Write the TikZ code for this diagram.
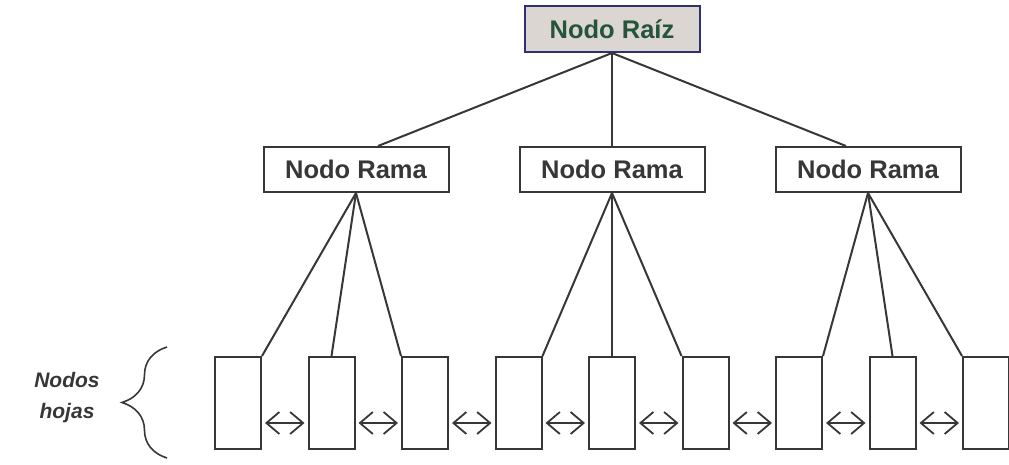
\documentclass[tikz,border=0pt]{standalone}
\usepackage{fontspec}
\setmainfont{Liberation Sans}
\usetikzlibrary{arrows.meta, positioning, decorations.pathreplacing}

\definecolor{rootfill}{RGB}{220,214,211}
\definecolor{rootdraw}{RGB}{48,48,110}
\definecolor{roottext}{RGB}{38,84,58}
\definecolor{inkgray}{RGB}{55,55,55}

\begin{document}
\begin{tikzpicture}[
    x=1pt, y=-1pt,
    font=\fontsize{25.5}{30}\selectfont\bfseries,
    root/.style={rectangle, draw=rootdraw, fill=rootfill, line width=2pt, text=roottext, inner sep=0pt, minimum width=175pt, minimum height=46pt},
    branch/.style={rectangle, draw=inkgray, line width=2pt, text=inkgray, inner sep=0pt, minimum width=185pt, minimum height=45pt},
    leaf/.style={rectangle, draw=inkgray, line width=2pt, inner sep=0pt, minimum width=46pt, minimum height=92pt},
    link/.style={draw=inkgray, line width=2pt},
    sibling/.style={{Straight Barb[length=13pt,width=22pt]}-{Straight Barb[length=13pt,width=22pt]}, draw=inkgray, line width=1.8pt},
    brace/.style={decorate, decoration={brace, amplitude=45pt, aspect=0.5}, draw=inkgray, line width=1.6pt}
]
\useasboundingbox (0,0) rectangle (1009,464);

% Root
\node[root] (root) at (612,29) {Nodo Raíz};

% Branches
\node[branch, below=93pt of root] (b2) {Nodo Rama};
\node[branch, left=69pt of b2] (b1) {Nodo Rama};
\node[branch, right=69pt of b2] (b3) {Nodo Rama};

% Leaves
\node[leaf, below=163pt of b2] (l5) {};
\node[leaf, left=45.5pt of l5] (l4) {};
\node[leaf, left=45.5pt of l4] (l3) {};
\node[leaf, left=45.5pt of l3] (l2) {};
\node[leaf, left=45.5pt of l2] (l1) {};
\node[leaf, right=45.5pt of l5] (l6) {};
\node[leaf, right=45.5pt of l6] (l7) {};
\node[leaf, right=45.5pt of l7] (l8) {};
\node[leaf, right=45.5pt of l8] (l9) {};

% Leaf label and brace
\node[font=\fontsize{21}{31}\selectfont\bfseries\itshape, text=inkgray, align=center] (hojas) at (67,398) {Nodos\\hojas};
\draw[brace] (167,458) -- (167,347);

% Root to branches
\draw[link] (root.south) -- ([xshift=22pt]b1.north);
\draw[link] (root.south) -- (b2.north);
\draw[link] (root.south) -- ([xshift=-22pt]b3.north);

% Branches to leaves
\draw[link] (b1.south) -- (l1.north east);
\draw[link] (b1.south) -- (l2.north);
\draw[link] (b1.south) -- (l3.north west);
\draw[link] (b2.south) -- (l4.north east);
\draw[link] (b2.south) -- (l5.north);
\draw[link] (b2.south) -- (l6.north west);
\draw[link] (b3.south) -- (l7.north east);
\draw[link] (b3.south) -- (l8.north);
\draw[link] (b3.south) -- (l9.north west);

% Sibling arrows
\draw[sibling] ([xshift=3pt, yshift=-20pt]l1.east) -- ([xshift=-3pt, yshift=-20pt]l2.west);
\draw[sibling] ([xshift=3pt, yshift=-20pt]l2.east) -- ([xshift=-3pt, yshift=-20pt]l3.west);
\draw[sibling] ([xshift=3pt, yshift=-20pt]l3.east) -- ([xshift=-3pt, yshift=-20pt]l4.west);
\draw[sibling] ([xshift=3pt, yshift=-20pt]l4.east) -- ([xshift=-3pt, yshift=-20pt]l5.west);
\draw[sibling] ([xshift=3pt, yshift=-20pt]l5.east) -- ([xshift=-3pt, yshift=-20pt]l6.west);
\draw[sibling] ([xshift=3pt, yshift=-20pt]l6.east) -- ([xshift=-3pt, yshift=-20pt]l7.west);
\draw[sibling] ([xshift=3pt, yshift=-20pt]l7.east) -- ([xshift=-3pt, yshift=-20pt]l8.west);
\draw[sibling] ([xshift=3pt, yshift=-20pt]l8.east) -- ([xshift=-3pt, yshift=-20pt]l9.west);

\end{tikzpicture}
\end{document}
